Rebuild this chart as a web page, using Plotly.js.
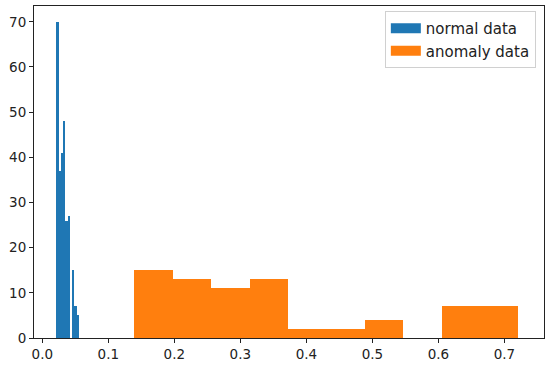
<!DOCTYPE html>
<html>
<head>
<meta charset="utf-8">
<script src="https://cdn.plot.ly/plotly-3.0.1.min.js"></script>
<style>html,body{margin:0;padding:0;background:#fff;}#chart{width:550px;height:370px;}</style>
</head>
<body>
<div id="chart"></div>
<script>
// Histogram bin edges and counts
const normalEdges = [0.0212, 0.0246, 0.0281, 0.0315, 0.0350, 0.0384, 0.0418, 0.0453, 0.0487, 0.0522, 0.0556];
const normalCounts = [70, 37, 41, 48, 26, 27, 0, 15, 7, 5];
const anomalyEdges = [0.1394, 0.1976, 0.2558, 0.3139, 0.3721, 0.4303, 0.4885, 0.5467, 0.6048, 0.6630, 0.7212];
const anomalyCounts = [15, 13, 11, 13, 2, 2, 4, 0, 7, 7];
const seriesNames = ["normal data", "anomaly data"];
const seriesColors = ["#1f77b4", "#ff7f0e"];
const xTicks = [0.0, 0.1, 0.2, 0.3, 0.4, 0.5, 0.6, 0.7];
const xTickLabels = ["0.0", "0.1", "0.2", "0.3", "0.4", "0.5", "0.6", "0.7"];
const yTicks = [0, 10, 20, 30, 40, 50, 60, 70];

function centers(e){ const c=[]; for(let i=0;i<e.length-1;i++) c.push((e[i]+e[i+1])/2); return c; }
function widths(e){ const w=[]; for(let i=0;i<e.length-1;i++) w.push(e[i+1]-e[i]); return w; }

const font = {family: "DejaVu Sans, sans-serif", size: 13.5, color: "#222"};

const traces = [
  {type: "bar", x: centers(normalEdges), y: normalCounts, width: widths(normalEdges),
   marker: {color: seriesColors[0], line: {width: 0}}, name: seriesNames[0], showlegend: false, legendgroup: "n"},
  {type: "bar", x: centers(anomalyEdges), y: anomalyCounts, width: widths(anomalyEdges),
   marker: {color: seriesColors[1], line: {width: 0}}, name: seriesNames[1], showlegend: false, legendgroup: "a"},
  {type: "scatter", mode: "lines", x: [null], y: [null], name: seriesNames[0], legendgroup: "n",
   line: {color: seriesColors[0], width: 10}},
  {type: "scatter", mode: "lines", x: [null], y: [null], name: seriesNames[1], legendgroup: "a",
   line: {color: seriesColors[1], width: 10}}
];

const layout = {
  width: 550, height: 370,
  margin: {l: 34, r: 6, t: 6, b: 32, pad: 0},
  paper_bgcolor: "#fff", plot_bgcolor: "#fff",
  font: font,
  barmode: "overlay", bargap: 0,
  showlegend: true,
  legend: {x: 0.984, y: 0.985, xanchor: "right", yanchor: "top",
           bgcolor: "rgba(255,255,255,0.8)", bordercolor: "#d0d0d0", borderwidth: 1,
           font: {family: "DejaVu Sans, sans-serif", size: 15, color: "#222"},
           tracegroupgap: 0, itemwidth: 30},
  xaxis: {range: [-0.0126, 0.760], tickvals: xTicks, ticktext: xTickLabels,
          showgrid: false, zeroline: false, showline: true, mirror: true,
          linecolor: "#222", linewidth: 1, ticks: "outside", ticklen: 4, tickcolor: "#222", tickwidth: 1,
          tickfont: font},
  yaxis: {range: [0, 73.5], tickvals: yTicks,
          showgrid: false, zeroline: false, showline: true, mirror: true,
          linecolor: "#222", linewidth: 1, ticks: "outside", ticklen: 4, tickcolor: "#222", tickwidth: 1,
          tickfont: font}
};

Plotly.newPlot("chart", traces, layout, {displayModeBar: false, staticPlot: true});
</script>
</body>
</html>
